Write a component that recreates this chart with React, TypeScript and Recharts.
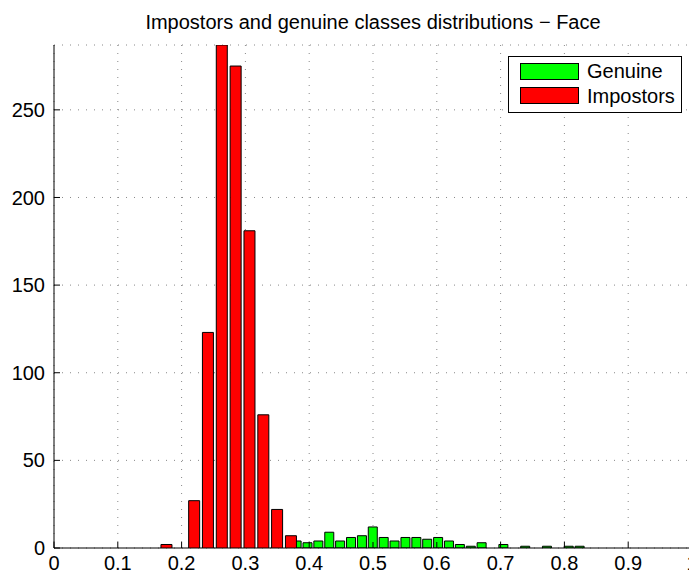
import { BarChart, Bar, XAxis, YAxis, CartesianGrid } from "recharts";

// histogram bin centres and counts
const GENUINE_X = [
  0.38, 0.3971, 0.4141, 0.4312, 0.4482, 0.4653, 0.4824, 0.4994, 0.5165, 0.5335,
  0.5506, 0.5677, 0.5847, 0.6018, 0.6188, 0.6359, 0.653, 0.67, 0.6871, 0.7041,
  0.7212, 0.7383, 0.7553, 0.7724, 0.7894, 0.8065, 0.8236,
];
const GENUINE_COUNT = [
  4, 3, 4, 9, 4, 6, 7, 12, 6, 4,
  6, 6, 5, 6, 4, 2, 1, 3, 0, 2,
  0, 1, 0, 1, 0, 1, 1,
];

const IMPOSTOR_X = [0.1763, 0.198, 0.2197, 0.2413, 0.263, 0.2847, 0.3064, 0.3281, 0.3497, 0.3714];
const IMPOSTOR_COUNT = [2, 0, 27, 123, 287, 275, 181, 76, 22, 7];

const X_TICKS = [0, 0.1, 0.2, 0.3, 0.4, 0.5, 0.6, 0.7, 0.8, 0.9, 1];
const Y_TICKS = [0, 50, 100, 150, 200, 250];
const Y_MAX = 287;

const SERIES = [
  { name: "Genuine", color: "#00ff00" },
  { name: "Impostors", color: "#ff0000" },
];

const genuineData = GENUINE_X.map((x, i) => ({ x, count: GENUINE_COUNT[i] }));
const impostorData = IMPOSTOR_X.map((x, i) => ({ x, count: IMPOSTOR_COUNT[i] }));

const FONT = "'Liberation Sans', Arial, Helvetica, sans-serif";
const W = 720;
const H = 574;
const tickStyle = { fill: "#000", fontSize: 20, fontFamily: FONT };

export default function App() {
  return (
    <div style={{ position: "fixed", left: 0, top: 0, width: 689, height: 574, overflow: "hidden", background: "#fff", fontFamily: FONT }}>
      {/* axes, grid and the genuine histogram */}
      <div style={{ position: "absolute", left: 0, top: 0 }}>
        <BarChart width={W} height={H} data={genuineData} margin={{ top: 45, right: 28, left: 0, bottom: 0 }}>
          <CartesianGrid strokeDasharray="1 7" stroke="#888" />
          <XAxis
            type="number"
            dataKey="x"
            domain={[0, 1]}
            ticks={X_TICKS}
            interval={0}
            height={26}
            tick={tickStyle}
            tickSize={-6}
            tickMargin={14}
            axisLine={{ stroke: "#000" }}
            tickLine={{ stroke: "#000" }}
          />
          <YAxis
            type="number"
            domain={[0, Y_MAX]}
            allowDataOverflow
            ticks={Y_TICKS}
            interval={0}
            width={54}
            tick={tickStyle}
            tickSize={-6}
            tickMargin={15}
            axisLine={{ stroke: "#000" }}
            tickLine={{ stroke: "#000" }}
          />
          <Bar dataKey="count" name="Genuine" fill={SERIES[0].color} stroke="#000" strokeWidth={1} isAnimationActive={false} />
        </BarChart>
      </div>

      {/* impostor histogram drawn on top with its own bins */}
      <div style={{ position: "absolute", left: 0, top: 0 }}>
        <BarChart width={W} height={H} data={impostorData} margin={{ top: 45, right: 28, left: 54, bottom: 26 }}>
          <XAxis type="number" dataKey="x" domain={[0, 1]} hide />
          <YAxis type="number" domain={[0, Y_MAX]} allowDataOverflow hide />
          <Bar dataKey="count" name="Impostors" fill={SERIES[1].color} stroke="#000" strokeWidth={1} isAnimationActive={false} />
        </BarChart>
      </div>

      <div style={{ position: "absolute", left: 54, width: 638, top: 12, textAlign: "center", fontSize: 20, lineHeight: "20px", color: "#000", whiteSpace: "nowrap" }}>
        Impostors and genuine classes distributions − Face
      </div>

      <div style={{ position: "absolute", left: 508, top: 56, width: 174, height: 57, boxSizing: "border-box", border: "1px solid #000", background: "#fff", paddingTop: 2 }}>
        {SERIES.map((s) => (
          <div key={s.name} style={{ display: "flex", alignItems: "center", height: 24.5, paddingLeft: 11 }}>
            <div style={{ width: 59, height: 17, boxSizing: "border-box", border: "1px solid #000", background: s.color }} />
            <span style={{ marginLeft: 8, fontSize: 20, lineHeight: "20px", color: "#000" }}>{s.name}</span>
          </div>
        ))}
      </div>
    </div>
  );
}
